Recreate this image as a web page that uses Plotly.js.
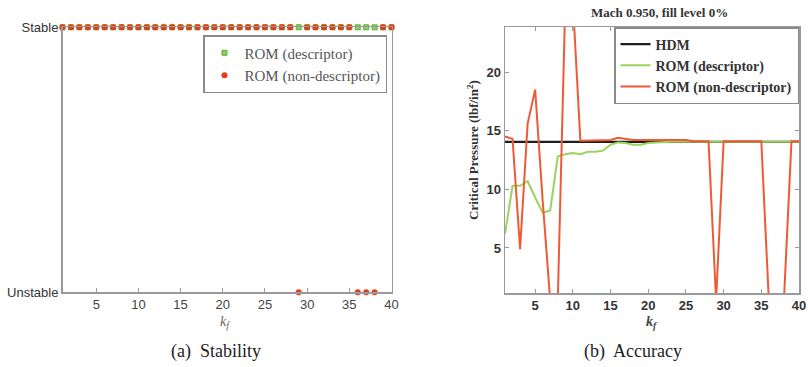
<!DOCTYPE html>
<html>
<head>
<meta charset="utf-8">
<script src="https://cdn.plot.ly/plotly-3.0.1.min.js"></script>
<style>
html,body{margin:0;padding:0;background:#fff;}
#chart{width:808px;height:367px;}
</style>
</head>
<body>
<div id="chart"></div>
<script>
// ---------- data ----------
var kf = [1,2,3,4,5,6,7,8,9,10,11,12,13,14,15,16,17,18,19,20,21,22,23,24,25,26,27,28,29,30,31,32,33,34,35,36,37,38,39,40];

// Stability: 1 = Stable, 0 = Unstable
var stabDescriptor    = [1,1,1,1,1,1,1,1,1,1,1,1,1,1,1,1,1,1,1,1,1,1,1,1,1,1,1,1,1,1,1,1,1,1,1,1,1,1,1,1];
var stabNonDescriptor = [1,1,1,1,1,1,1,1,1,1,1,1,1,1,1,1,1,1,1,1,1,1,1,1,1,1,1,1,0,1,1,1,1,1,1,0,0,0,1,1];
var stabTickVals = [0, 1];
var stabTickText = ['Unstable', 'Stable'];

// Accuracy: critical pressure (lbf/in^2)
var hdm = [14.05,14.05,14.05,14.05,14.05,14.05,14.05,14.05,14.05,14.05,14.05,14.05,14.05,14.05,14.05,14.05,14.05,14.05,14.05,14.05,14.05,14.05,14.05,14.05,14.05,14.05,14.05,14.05,14.05,14.05,14.05,14.05,14.05,14.05,14.05,14.05,14.05,14.05,14.05,14.05];
var romDescriptor = [6.2,10.3,10.3,10.7,9.3,8.0,8.2,12.8,13.0,13.1,13.0,13.2,13.2,13.3,13.8,14.0,13.95,13.8,13.8,13.95,14.0,14.05,14.05,14.05,14.05,14.05,14.05,14.05,14.05,14.05,14.05,14.05,14.05,14.05,14.05,14.05,14.05,14.05,14.05,14.05];
var romNonDescriptor = [14.5,14.3,4.9,15.6,18.5,9.0,0.5,0.5,26,26,14.15,14.15,14.15,14.15,14.2,14.4,14.3,14.2,14.2,14.2,14.2,14.15,14.15,14.15,14.2,14.1,14.1,14.1,0.5,14.1,14.1,14.1,14.1,14.1,14.1,0.5,0.5,0.5,14.1,14.1];
var xTicks = [5,10,15,20,25,30,35,40];
var yTicks2 = [5,10,15,20];

// ---------- layout helpers ----------
var W = 808, H = 367;
function px(x){ return x / W; }
function py(y){ return 1 - y / H; }

var axisColor = '#9a9a9a';
var sans = 'Liberation Sans, Arial, sans-serif';
var serif = 'Liberation Serif, Times New Roman, serif';

var traces = [
  {x: kf, y: stabDescriptor, xaxis:'x', yaxis:'y', mode:'markers', type:'scatter',
   name:'ROM (descriptor)', legend:'legend', cliponaxis:false,
   marker:{symbol:'square', size:5, color:'#8ccf5a', line:{color:'#5fae3a', width:1}}},
  {x: kf, y: stabNonDescriptor, xaxis:'x', yaxis:'y', mode:'markers', type:'scatter',
   name:'ROM (non-descriptor)', legend:'legend', cliponaxis:false,
   marker:{symbol:'circle', size:6, color:'#ea3a16'}},
  {x: kf, y: hdm, xaxis:'x2', yaxis:'y2', mode:'lines', type:'scatter',
   name:'HDM', legend:'legend2', line:{color:'#1e1e1e', width:2.2}},
  {x: kf, y: romDescriptor, xaxis:'x2', yaxis:'y2', mode:'lines', type:'scatter',
   name:'ROM (descriptor)', legend:'legend2', line:{color:'#9ad45e', width:2}},
  {x: kf, y: romNonDescriptor, xaxis:'x2', yaxis:'y2', mode:'lines', type:'scatter',
   name:'ROM (non-descriptor)', legend:'legend2', line:{color:'#ef5a36', width:2}}
];

function ann(text, x, y, font, extra){
  var a = {text: text, xref:'paper', yref:'paper', x: px(x), y: py(y),
           xanchor:'center', yanchor:'middle', showarrow:false, font: font};
  if (extra) for (var k in extra) a[k] = extra[k];
  return a;
}

var layout = {
  width: W, height: H,
  margin: {l:0, r:0, t:0, b:0},
  paper_bgcolor: '#fff', plot_bgcolor: '#fff',
  showlegend: true,
  xaxis: {
    domain: [px(62.5), px(391.5)], anchor: 'y', range: [1, 40],
    tickvals: xTicks, ticks: 'inside', ticklen: 4, tickcolor: axisColor,
    showline: true, linecolor: axisColor, linewidth: 1.5, mirror: true,
    showgrid: false, zeroline: false,
    tickfont: {family: sans, size: 13, color: '#444'}
  },
  yaxis: {
    domain: [py(292.3), py(27.3)], anchor: 'x', range: [0, 1],
    tickvals: stabTickVals, ticktext: stabTickText, ticks: '',
    showline: true, linecolor: axisColor, linewidth: 1.5, mirror: true,
    showgrid: false, zeroline: false,
    tickfont: {family: sans, size: 13, color: '#333'}
  },
  xaxis2: {
    domain: [px(505), px(799)], anchor: 'y2', range: [1, 40],
    tickvals: xTicks, ticks: 'inside', ticklen: 4, tickcolor: axisColor,
    showline: true, linecolor: axisColor, linewidth: 1.5, mirror: 'ticks',
    showgrid: false, zeroline: false,
    tickfont: {family: sans, size: 13, color: '#333', weight: 'bold'}
  },
  yaxis2: {
    domain: [py(293), py(27)], anchor: 'x2', range: [1.16, 23.84],
    tickvals: yTicks2, ticks: 'inside', ticklen: 4, tickcolor: axisColor,
    showline: true, linecolor: axisColor, linewidth: 1.5, mirror: 'ticks',
    showgrid: false, zeroline: false,
    tickfont: {family: sans, size: 13, color: '#333', weight: 'bold'}
  },
  legend: {
    x: px(387), xanchor: 'right', y: py(35), yanchor: 'top',
    bgcolor: '#fff', bordercolor: '#8a8a8a', borderwidth: 1.5,
    font: {family: serif, size: 15, color: '#555'}
  },
  legend2: {
    x: px(799), xanchor: 'right', y: py(27), yanchor: 'top',
    bgcolor: '#fff', bordercolor: '#8a8a8a', borderwidth: 1.5,
    font: {family: serif, size: 14, color: '#333', weight: 'bold'}
  },
  annotations: [
    ann('<i>k</i><sub><i>f</i></sub>', 225, 322, {family: serif, size: 14, color: '#666'}),
    ann('<b><i>k</i><sub><i>f</i></sub></b>', 652, 322, {family: serif, size: 14, color: '#444'}),
    ann('<b>Mach 0.950, fill level 0%</b>', 659, 13, {family: serif, size: 13, color: '#333'}),
    ann('<b>Critical Pressure (lbf/in<sup>2</sup>)</b>', 473, 150, {family: serif, size: 13, color: '#333'}, {textangle: -90}),
    ann('(a)  Stability', 216, 351, {family: serif, size: 18, color: '#222'}),
    ann('(b)  Accuracy', 633, 351, {family: serif, size: 18, color: '#222'})
  ]
};

Plotly.newPlot('chart', traces, layout, {displayModeBar: false, staticPlot: true});
</script>
</body>
</html>
